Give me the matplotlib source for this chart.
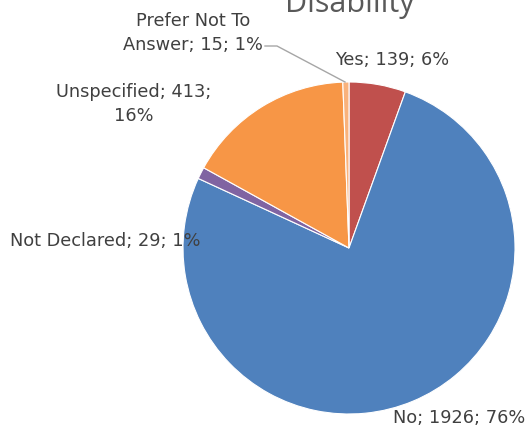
import matplotlib.pyplot as plt

# disability responses
labels = ["Yes", "No", "Not Declared", "Unspecified", "Prefer Not To Answer"]
counts = [139, 1926, 29, 413, 15]
percents = [6, 76, 1, 16, 1]
colors = ["#C0504D", "#4F81BD", "#8064A2", "#F79646", "#F9B27C"]

plt.rcParams['font.family'] = ['DejaVu Sans']

W, H = 528, 430
fig = plt.figure(figsize=(W / 100, H / 100), dpi=100)
ax = fig.add_axes([0, 0, 1, 1])

cx, cy, r = 349, H - 248, 166
ax.pie(counts, colors=colors, startangle=90, counterclock=False,
       center=(cx, cy), radius=r,
       wedgeprops=dict(edgecolor="white", linewidth=0.8))
ax.set_xlim(0, W)
ax.set_ylim(0, H)
ax.set_aspect('equal')
ax.axis('off')

txt = "#404040"
fs = 12.8


def lab(i):
    return f"{labels[i]}; {counts[i]}; {percents[i]}%"


ax.text(350, H - 4, "Disability", ha='center', va='center',
        fontsize=22, color="#595959", family='Open Sans')

ax.text(335, H - 60, lab(0), ha='left', va='center', fontsize=fs, color=txt)
ax.text(525, H - 418, lab(1), ha='right', va='center', fontsize=fs, color=txt)
ax.text(10, H - 241, lab(2), ha='left', va='center', fontsize=fs, color=txt)
ax.text(134, H - 104, "Unspecified; 413;\n16%", ha='center', va='center',
        fontsize=fs, color=txt, linespacing=1.45)
ax.text(193, H - 33, "Prefer Not To\nAnswer; 15; 1%", ha='center', va='center',
        fontsize=fs, color=txt, linespacing=1.5)

# leader line for the thin slice
ax.plot([265, 277, 345], [H - 46, H - 46, H - 82], color="#A6A6A6", lw=1)

fig.savefig("out.png", dpi=100)
